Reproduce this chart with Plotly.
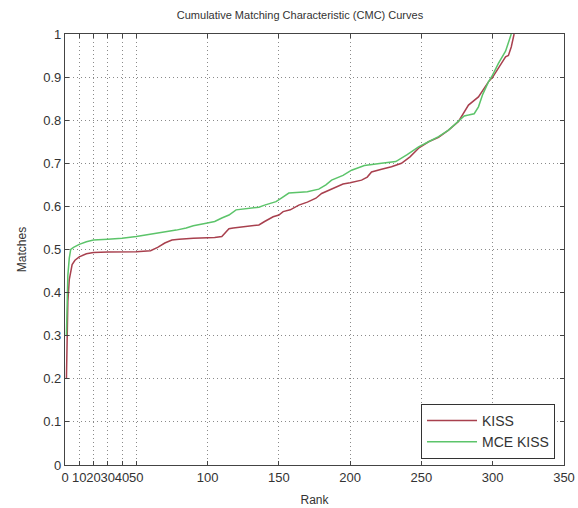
import plotly.graph_objects as go

kiss_rank = [1,2,3,4,5,7,10,15,20,30,40,50,55,60,65,70,75,80,90,100,105,110,113,115,118,125,130,136,140,146,
             150,153,158,164,170,176,180,187,195,200,208,212,215,222,229,236,242,248,255,262,269,276,283,290,297,300,304,309,311,313,315]
kiss_val = [0.2,0.38,0.43,0.45,0.465,0.475,0.483,0.49,0.493,0.494,0.494,0.495,0.496,0.497,0.505,0.515,0.522,0.524,0.526,0.527,
            0.528,0.53,0.54,0.548,0.55,0.553,0.555,0.557,0.565,0.576,0.58,0.588,0.592,0.603,0.61,0.619,0.63,0.64,0.652,0.655,
            0.661,0.668,0.68,0.686,0.692,0.70,0.715,0.735,0.75,0.76,0.777,0.797,0.835,0.854,0.889,0.90,0.92,0.947,0.95,0.97,1.0]

mce_rank = [1,2,3,4,6,10,15,20,30,40,50,60,70,78,85,90,99,105,110,115,120,130,136,140,148,152,157,165,170,178,
            183,187,195,201,210,222,232,240,248,255,262,269,276,280,283,287,290,293,297,300,304,309,313]
mce_val = [0.3,0.44,0.48,0.5,0.505,0.512,0.518,0.522,0.524,0.526,0.53,0.535,0.54,0.545,0.55,0.555,0.561,0.565,0.573,0.58,
           0.592,0.595,0.598,0.603,0.611,0.62,0.631,0.633,0.634,0.64,0.65,0.661,0.672,0.684,0.695,0.70,0.704,0.72,0.738,0.75,
           0.762,0.777,0.797,0.81,0.812,0.815,0.831,0.86,0.889,0.905,0.932,0.96,1.0]

x_ticks = [0,10,20,30,40,50,100,150,200,250,300,350]
y_ticks = [0,0.1,0.2,0.3,0.4,0.5,0.6,0.7,0.8,0.9,1]
y_labels = ["0","0.1","0.2","0.3","0.4","0.5","0.6","0.7","0.8","0.9","1"]

fig = go.Figure()
fig.add_trace(go.Scatter(x=kiss_rank, y=kiss_val, mode="lines", name="KISS",
                         line=dict(color="#a8404e", width=1.5)))
fig.add_trace(go.Scatter(x=mce_rank, y=mce_val, mode="lines", name="MCE KISS",
                         line=dict(color="#5cc46a", width=1.5)))

font = dict(family="Liberation Sans, Arial, sans-serif", size=13, color="#333333")
axis_common = dict(showline=True, linecolor="#444444", linewidth=1.2, mirror="ticks",
                   ticks="inside", ticklen=4, tickcolor="#444444",
                   showgrid=True, gridcolor="#8a8a8a", griddash="1px,3px", gridwidth=1,
                   zeroline=False, tickfont=font, automargin=False, ticklabeloverflow="allow")

fig.update_layout(
    width=578, height=508,
    margin=dict(l=65, r=14, t=34, b=43),
    paper_bgcolor="white", plot_bgcolor="white",
    font=font,
    title=dict(text="Cumulative Matching Characteristic (CMC) Curves", x=0.519, xanchor="center",
               y=0.970, yanchor="middle", font=dict(family="Liberation Sans, Arial, sans-serif", size=11, color="#333333")),
    xaxis=dict(range=[0, 350], tickvals=x_ticks, ticktext=[str(v) for v in x_ticks], tickangle=0,
               title=dict(text="Rank", standoff=11, font=dict(size=12)), **axis_common),
    yaxis=dict(range=[0, 1], tickvals=y_ticks, ticktext=y_labels,
               title=dict(text="Matches", standoff=14, font=dict(size=12)), **axis_common),
    legend=dict(x=0.982, y=0.014, xanchor="right", yanchor="bottom", itemwidth=50,
                bgcolor="white", bordercolor="#333333", borderwidth=1,
                font=dict(family="Liberation Sans, Arial, sans-serif", size=14, color="#333333")),
    showlegend=True,
)

fig.write_html("out.html", config={"displayModeBar": False},
               post_script="document.body.style.margin='0';document.body.style.overflow='hidden';")
